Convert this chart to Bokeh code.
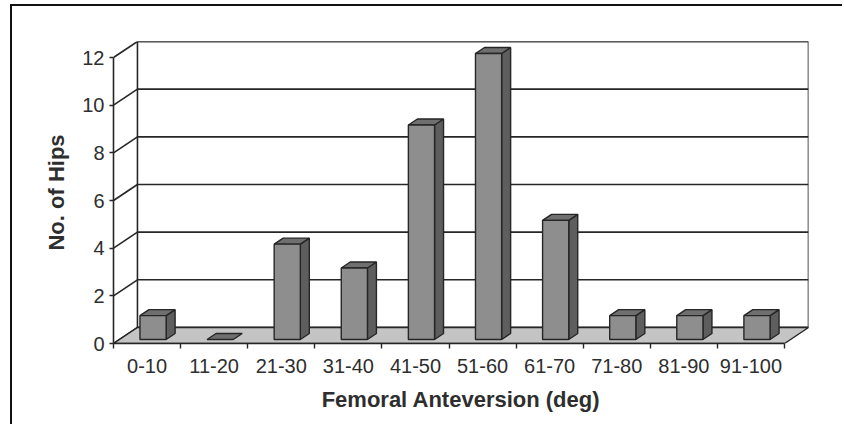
from bokeh.plotting import figure
from bokeh.models import Range1d, FixedTicker, CustomJSTickFormatter
from bokeh.embed import file_html
from bokeh.resources import INLINE

# Hip count per femoral anteversion band
categories = ["0-10", "11-20", "21-30", "31-40", "41-50",
              "51-60", "61-70", "71-80", "81-90", "91-100"]
hips = [1, 0, 4, 3, 9, 12, 5, 1, 1, 1]
y_ticks = [0, 2, 4, 6, 8, 10, 12]

# Oblique projection of the depth axis (full depth in x and y data units)
DX = 0.357
DY = 0.672
BAR_W = 0.39          # bar width, in category units
D0, D1 = 0.25, 0.625  # bar front / back depth (fraction of full depth)
YMAX = 12

def proj(x, y, d):
    return x + d * DX, y + d * DY

LINE = "#262626"
TEXT = "#2e2e2e"
FONT = "Liberation Sans"

p = figure(width=832, height=420, output_backend="svg", toolbar_location=None,
           x_range=Range1d(0, len(categories) + DX), y_range=Range1d(0, YMAX + DY),
           min_border_left=101, min_border_right=36, min_border_top=35,
           min_border_bottom=83,
           styles={"margin-left": "10px", "margin-top": "4px",
                   "border-top": "2px solid #111", "border-left": "2px solid #111"})
p.xgrid.visible = False
p.ygrid.visible = False
p.outline_line_color = None
p.background_fill_color = "white"
p.border_fill_color = "white"

n = len(categories)

# back wall
bw = [proj(0, 0, 1), proj(n, 0, 1), proj(n, YMAX, 1), proj(0, YMAX, 1)]
p.patch([q[0] for q in bw], [q[1] for q in bw], fill_color="white",
        line_color=LINE, line_width=1.6)

# gridlines on back wall and diagonals on the left side wall
gx, gy = [], []
for v in y_ticks:
    a, b = proj(0, v, 1), proj(n, v, 1)
    gx.append([a[0], b[0]]); gy.append([a[1], b[1]])
    c = proj(0, v, 0)
    gx.append([c[0], a[0]]); gy.append([c[1], a[1]])
p.multi_line(gx, gy, line_color=LINE, line_width=1.6)

# floor
fl = [proj(0, 0, 0), proj(n, 0, 0), proj(n, 0, 1), proj(0, 0, 1)]
p.patch([q[0] for q in fl], [q[1] for q in fl], fill_color="#c4c4c4",
        line_color=LINE, line_width=1.4)

# 3D bars: front, side and top faces
fx, fy, sx, sy, tx, ty = [], [], [], [], [], []
for i, h in enumerate(hips):
    xl = i + 0.5 - BAR_W / 2
    xr = i + 0.5 + BAR_W / 2
    f = [proj(xl, 0, D0), proj(xr, 0, D0), proj(xr, h, D0), proj(xl, h, D0)]
    s = [proj(xr, 0, D0), proj(xr, 0, D1), proj(xr, h, D1), proj(xr, h, D0)]
    t = [proj(xl, h, D0), proj(xr, h, D0), proj(xr, h, D1), proj(xl, h, D1)]
    tx.append([q[0] for q in t]); ty.append([q[1] for q in t])
    if h > 0:
        fx.append([q[0] for q in f]); fy.append([q[1] for q in f])
        sx.append([q[0] for q in s]); sy.append([q[1] for q in s])

p.patches(sx, sy, fill_color="#5e5e5e", line_color=LINE, line_width=1.4)
p.patches(tx, ty, fill_color="#6f6f6f", line_color=LINE, line_width=1.4)
p.patches(fx, fy, fill_color="#8e8e8e", line_color=LINE, line_width=1.4)

# y axis on the front plane
ya = p.yaxis[0]
ya.bounds = (0, YMAX)
ya.ticker = FixedTicker(ticks=y_ticks)
ya.axis_line_color = LINE
ya.axis_line_width = 1.6
ya.major_tick_line_color = LINE
ya.major_tick_line_width = 1.4
ya.major_tick_out = 4
ya.major_tick_in = 0
ya.minor_tick_line_color = None
ya.major_label_text_font = FONT
ya.major_label_text_font_size = "20px"
ya.major_label_text_color = TEXT
ya.major_label_standoff = 5
ya.axis_label = "No. of Hips"
ya.axis_label_text_font = FONT
ya.axis_label_text_font_size = "22px"
ya.axis_label_text_font_style = "bold"
ya.axis_label_text_color = TEXT
ya.axis_label_standoff = 10

# x axis along the front floor edge: ticks between bands, labels at centres
xa = p.xaxis[0]
xa.bounds = (0, n)
xa.ticker = FixedTicker(ticks=[i + 0.5 for i in range(n)],
                        minor_ticks=list(range(n + 1)))
xa.formatter = CustomJSTickFormatter(args=dict(labels=categories),
                                     code="return labels[Math.floor(tick)];")
xa.axis_line_color = LINE
xa.axis_line_width = 1.6
xa.major_tick_line_color = None
xa.major_tick_out = 0
xa.major_tick_in = 0
xa.minor_tick_line_color = LINE
xa.minor_tick_line_width = 1.4
xa.minor_tick_out = 5
xa.minor_tick_in = 0
xa.major_label_text_font = FONT
xa.major_label_text_font_size = "20px"
xa.major_label_text_color = TEXT
xa.major_label_standoff = 10
xa.axis_label = "Femoral Anteversion (deg)"
xa.axis_label_text_font = FONT
xa.axis_label_text_font_size = "22px"
xa.axis_label_text_font_style = "bold"
xa.axis_label_text_color = TEXT
xa.axis_label_standoff = 11

open("out.html", "w").write(file_html(p, INLINE))
